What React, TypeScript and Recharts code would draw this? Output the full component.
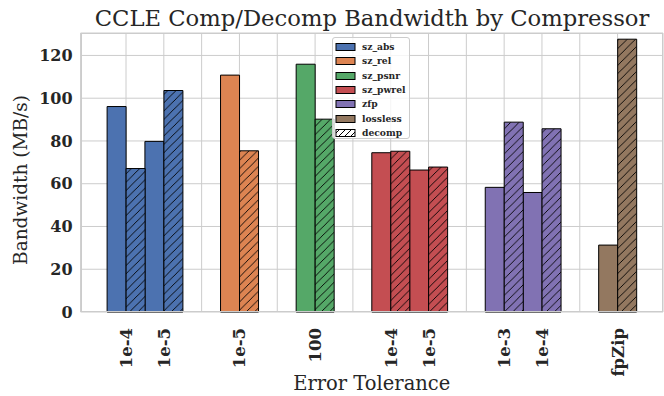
import { BarChart, Bar, XAxis, YAxis, CartesianGrid, Cell, Legend } from 'recharts'

// compressors and their seaborn "deep" colours
const compressors = ['sz_abs', 'sz_rel', 'sz_psnr', 'sz_pwrel', 'zfp', 'lossless']
const palette = ['#4c72b0', '#dd8452', '#55a868', '#c44e52', '#8172b3', '#937860']

// one entry per comp/decomp pair
const barCompressor = ['sz_abs', 'sz_abs', 'sz_rel', 'sz_psnr', 'sz_pwrel', 'sz_pwrel', 'zfp', 'zfp', 'lossless']
const barTolerance = ['1e-4', '1e-5', '1e-5', '100', '1e-4', '1e-5', '1e-3', '1e-4', 'fpZip']
const compBandwidth = [96.1, 79.8, 110.8, 115.9, 74.5, 66.4, 58.3, 55.9, 31.3]
const decompBandwidth = [67.1, 103.6, 75.4, 90.2, 75.2, 67.8, 88.8, 85.7, 127.6]

const yTicks = [0, 20, 40, 60, 80, 100, 120]

// an empty slot between compressors, like the original layout
const rows: Array<{ slot: string; label: string; comp: number | null; decomp: number | null; ci: number }> = []
barCompressor.forEach((c, i) => {
  if (i > 0 && barCompressor[i - 1] !== c) {
    rows.push({ slot: 'gap' + i, label: '', comp: null, decomp: null, ci: -1 })
  }
  rows.push({
    slot: 's' + i,
    label: barTolerance[i],
    comp: compBandwidth[i],
    decomp: decompBandwidth[i],
    ci: compressors.indexOf(c)
  })
})

const SERIF = '"DejaVu Serif", serif'
const TEXT = '#262626'
const H = 8.33

function XTick({ x, y, payload }: any) {
  const label = rows[payload.index]?.label
  if (!label) return null
  return (
    <text
      x={x + 6}
      y={y + 8}
      transform={`rotate(-90, ${x + 6}, ${y + 8})`}
      textAnchor="end"
      fontFamily={SERIF}
      fontWeight="bold"
      fontSize={16.5}
      fill={TEXT}
    >
      {label}
    </text>
  )
}

function LegendBox() {
  const items = [...compressors.map((c, i) => ({ name: c, fill: palette[i] })), { name: 'decomp', fill: 'url(#hatch-legend)' }]
  return (
    <div
      style={{
        width: 78,
        height: 102,
        boxSizing: 'border-box',
        border: '1px solid #cccccc',
        borderRadius: 3,
        background: 'rgba(255,255,255,0.8)',
        paddingTop: 2
      }}
    >
      {items.map(it => (
        <div key={it.name} style={{ display: 'flex', alignItems: 'center', height: 14.3 }}>
          <svg width={24} height={10} style={{ marginLeft: 2 }}>
            <rect x={1} y={1.5} width={19} height={7} fill={it.fill} stroke="#000" strokeWidth={1} />
          </svg>
          <span style={{ marginLeft: 3, fontFamily: SERIF, fontWeight: 'bold', fontSize: 9.2, color: TEXT, lineHeight: '10px' }}>
            {it.name}
          </span>
        </div>
      ))}
    </div>
  )
}

export default function App() {
  return (
    <div style={{ position: 'absolute', left: 0, top: 0, width: 664, height: 396, background: '#fff' }}>
      <svg width={0} height={0} style={{ position: 'absolute' }}>
        <defs>
          {palette.map((col, i) => (
            <pattern key={i} id={`hatch-${i}`} patternUnits="userSpaceOnUse" width={H} height={H}>
              <rect width={H} height={H} fill={col} />
              <path d={`M0,${H} L${H},0 M${-H / 2},${H / 2} L${H / 2},${-H / 2} M${H / 2},${H * 1.5} L${H * 1.5},${H / 2}`} stroke="#000" strokeWidth={0.9} />
            </pattern>
          ))}
          <pattern id="hatch-legend" patternUnits="userSpaceOnUse" width={6} height={6}>
            <rect width={6} height={6} fill="#fff" />
            <path d="M0,6 L6,0 M-3,3 L3,-3 M3,9 L9,3" stroke="#000" strokeWidth={1} />
          </pattern>
        </defs>
      </svg>

      <div
        style={{
          position: 'absolute',
          left: 80,
          width: 584,
          top: 4.5,
          textAlign: 'center',
          fontFamily: SERIF,
          fontSize: 22.7,
          color: TEXT,
          lineHeight: '26px',
          whiteSpace: 'nowrap'
        }}
      >
        CCLE Comp/Decomp Bandwidth by Compressor
      </div>

      <BarChart
        width={664}
        height={396}
        data={rows}
        margin={{ top: 33, right: 1, bottom: 0, left: 0 }}
        barCategoryGap={0}
        barGap={0}
      >
        <CartesianGrid stroke="#cccccc" strokeWidth={1} />
        <XAxis
          dataKey="slot"
          interval={0}
          height={84}
          padding={{ left: 26.5, right: 26.5 }}
          tickLine={false}
          axisLine={false}
          tick={<XTick />}
        />
        <YAxis
          width={80.6}
          domain={[0, 130.5]}
          ticks={yTicks}
          tickLine={false}
          axisLine={false}
          tick={{ fontFamily: SERIF, fontWeight: 'bold', fontSize: 16, fill: TEXT }}
        />
        <Legend
          layout="vertical"
          verticalAlign="middle"
          align="center"
          wrapperStyle={{ position: 'absolute', left: 332, top: 37, width: 78 }}
          content={() => <LegendBox />}
        />
        <Bar dataKey="comp" isAnimationActive={false} stroke="#000" strokeWidth={1}>
          {rows.map(r => (
            <Cell key={r.slot} fill={r.ci >= 0 ? palette[r.ci] : 'none'} />
          ))}
        </Bar>
        <Bar dataKey="decomp" isAnimationActive={false} stroke="#000" strokeWidth={1}>
          {rows.map(r => (
            <Cell key={r.slot} fill={r.ci >= 0 ? `url(#hatch-${r.ci})` : 'none'} />
          ))}
        </Bar>
      </BarChart>

      <div
        style={{
          position: 'absolute',
          left: 80.6,
          top: 33,
          width: 582.4,
          height: 279,
          boxSizing: 'border-box',
          border: '1px solid #cccccc',
          pointerEvents: 'none'
        }}
      />

      <div
        style={{
          position: 'absolute',
          left: 20,
          top: 180,
          transform: 'translate(-50%, -50%) rotate(-90deg)',
          whiteSpace: 'nowrap',
          fontFamily: SERIF,
          fontSize: 18.5,
          color: TEXT
        }}
      >
        Bandwidth (MB/s)
      </div>
      <div
        style={{
          position: 'absolute',
          left: 80.6,
          width: 582.4,
          top: 372,
          textAlign: 'center',
          fontFamily: SERIF,
          fontSize: 19.5,
          color: TEXT,
          lineHeight: '24px'
        }}
      >
        Error Tolerance
      </div>
    </div>
  )
}
